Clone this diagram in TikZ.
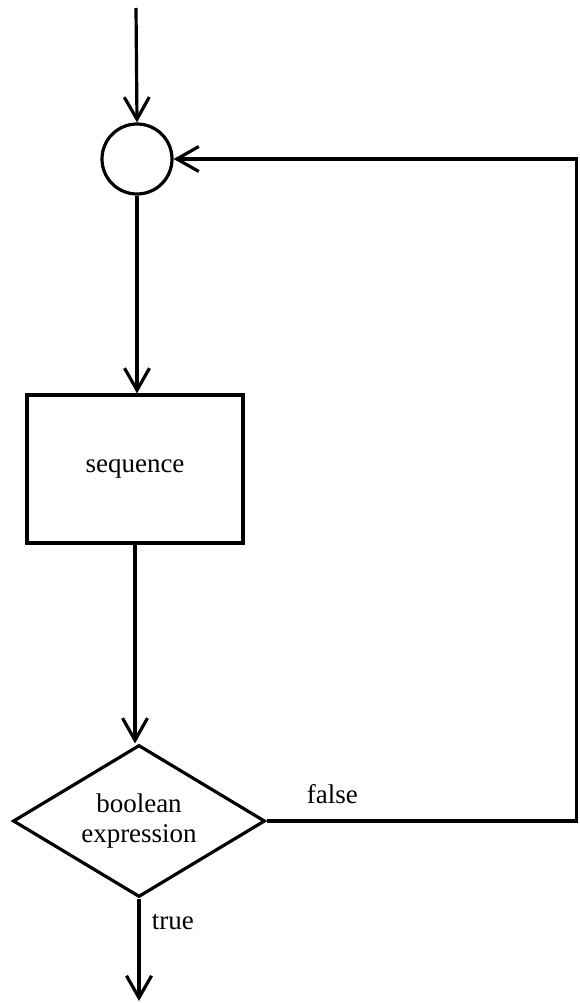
\documentclass[tikz,border=0pt]{standalone}
\usepackage{fontspec}
\setmainfont{Liberation Serif}
\usetikzlibrary{arrows.meta,shapes.geometric}
\begin{document}
\begin{tikzpicture}[x=1pt,y=-1pt,line width=3.2pt,
  flow/.style={-{Straight Barb[length=22pt,width=25pt]}},
  lbl/.style={font=\fontsize{27}{30}\selectfont},
  joinbox/.style={circle,draw,minimum size=70pt,inner sep=0pt},
  seqbox/.style={draw,minimum width=216pt,minimum height=148pt,inner sep=0pt},
  decbox/.style={diamond,draw,aspect=1.65,minimum width=252pt,minimum height=152pt,inner sep=0pt,align=center}]
\useasboundingbox (0,0) rectangle (579,1003);
\coordinate (start) at (136,8);
\node[joinbox] (join) at (137,159) {};
\node[seqbox,lbl] (seq) at (135,469) {sequence};
\node[decbox,lbl] (dec) at (139,821) {boolean\\expression};
\coordinate (rb) at (576.5,821);
\coordinate (rt) at (576.5,159);
\coordinate (end) at (139,1001);
\draw[flow] (start) -- (join.north);
\draw[flow] (join.south) -- (join.south |- seq.north);
\draw[flow] (seq.south) -- (seq.south |- dec.north);
\draw[flow] (dec.south) -- (end);
\draw[flow] (dec.east) -- (rb) -- (rt) -- (join.east);
\node[lbl,anchor=west] (falselbl) at (302,794) {false};
\node[lbl,anchor=west] (truelbl) at (147,922) {true};
\end{tikzpicture}
\end{document}
